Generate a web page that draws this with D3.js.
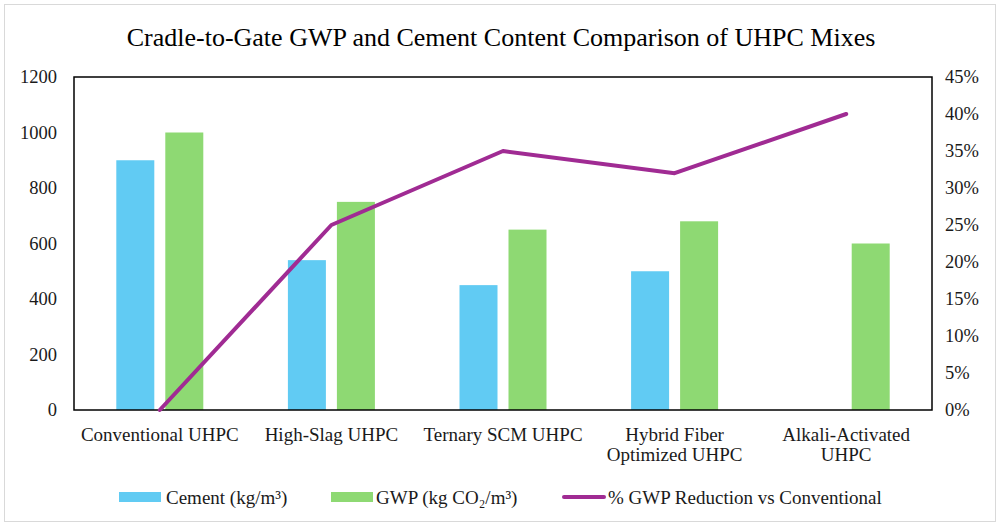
<!DOCTYPE html>
<html>
<head>
<meta charset="utf-8">
<script src="https://cdn.jsdelivr.net/npm/d3@7"></script>
<style>
  html, body { margin: 0; padding: 0; background: #fff; }
  svg text { font-family: "Liberation Serif", "Times New Roman", serif; fill: #1a1a1a; }
</style>
</head>
<body>
<svg id="chart" width="997" height="525"></svg>
<script>
const title = "Cradle-to-Gate GWP and Cement Content Comparison of UHPC Mixes";
const categories = [
  ["Conventional UHPC"],
  ["High-Slag UHPC"],
  ["Ternary SCM UHPC"],
  ["Hybrid Fiber", "Optimized UHPC"],
  ["Alkali-Activated", "UHPC"]
];
const cement = [900, 540, 450, 500, 0];
const gwp = [1000, 750, 650, 680, 600];
const reduction = [0, 25, 35, 32, 40];
const leftTicks = [0, 200, 400, 600, 800, 1000, 1200];
const rightTicks = [0, 5, 10, 15, 20, 25, 30, 35, 40, 45];
const seriesNames = ["Cement (kg/m³)", "GWP (kg CO₂/m³)", "% GWP Reduction vs Conventional"];
const colors = ["#61CBF3", "#8ED973", "#A02B93"];

const svg = d3.select("#chart");
const plot = { left: 74, right: 932, top: 77, bottom: 410 };
const catKeys = categories.map(c => c.join(" "));

// outer frame
svg.append("rect").attr("x", 4.5).attr("y", 4.5).attr("width", 991).attr("height", 517)
  .attr("fill", "#fff").attr("stroke", "#d9d9d9").attr("stroke-width", 1);

// title
svg.append("text").attr("x", 501).attr("y", 46).attr("text-anchor", "middle")
  .style("font-size", "26px").style("fill", "#000").text(title);

const x0 = d3.scaleBand().domain(catKeys).range([plot.left, plot.right]).paddingInner(0.493).paddingOuter(0.2465);
const x1 = d3.scaleBand().domain(["cement", "gwp"]).range([0, x0.bandwidth()]).paddingInner(11 / 49);
const yL = d3.scaleLinear().domain([0, 1200]).range([plot.bottom, plot.top]);
const yR = d3.scaleLinear().domain([0, 45]).range([plot.bottom, plot.top]);

// bars
const data = catKeys.map((k, i) => ({ k, cement: cement[i], gwp: gwp[i], red: reduction[i] }));
[["cement", colors[0]], ["gwp", colors[1]]].forEach(([key, col]) => {
  svg.append("g").selectAll("rect").data(data).join("rect")
    .attr("x", d => x0(d.k) + x1(key))
    .attr("width", x1.bandwidth())
    .attr("y", d => yL(d[key]))
    .attr("height", d => yL(0) - yL(d[key]))
    .attr("fill", col);
});

// plot border
svg.append("rect").attr("x", plot.left).attr("y", plot.top)
  .attr("width", plot.right - plot.left).attr("height", plot.bottom - plot.top)
  .attr("fill", "none").attr("stroke", "#000").attr("stroke-width", 1.5);

// line
const line = d3.line().x(d => x0(d.k) + x0.bandwidth() / 2).y(d => yR(d.red));
svg.append("path").datum(data).attr("d", line)
  .attr("fill", "none").attr("stroke", colors[2]).attr("stroke-width", 4)
  .attr("stroke-linejoin", "round").attr("stroke-linecap", "round");

// left axis
const axL = d3.axisLeft(yL).tickValues(leftTicks).tickSize(0).tickPadding(0).tickFormat(d3.format("d"));
const gL = svg.append("g").attr("transform", "translate(57,0)").call(axL);
gL.select(".domain").remove();
gL.selectAll("text").style("font-size", "18.5px").attr("fill", "#1a1a1a").attr("font-family", null);

// right axis
const axR = d3.axisRight(yR).tickValues(rightTicks).tickSize(0).tickPadding(0).tickFormat(d => d + "%");
const gR = svg.append("g").attr("transform", "translate(945,0)").call(axR);
gR.select(".domain").remove();
gR.selectAll("text").style("font-size", "18.5px").attr("fill", "#1a1a1a").attr("font-family", null);

// category labels
const axB = d3.axisBottom(x0).tickSize(0).tickPadding(0).tickFormat("");
const gB = svg.append("g").attr("transform", `translate(0,${plot.bottom})`).call(axB);
gB.select(".domain").remove();
gB.selectAll(".tick").each(function(d, i) {
  const t = d3.select(this).append("text").attr("text-anchor", "middle")
    .style("font-size", "19px").attr("fill", "#1a1a1a");
  categories[i].forEach((ln, j) => {
    t.append("tspan").attr("x", 0).attr("y", 31 + j * 20).text(ln);
  });
});

// legend
const ly = 497;
const leg = svg.append("g");
leg.append("rect").attr("x", 119).attr("y", ly - 5).attr("width", 42).attr("height", 10).attr("fill", colors[0]);
leg.append("text").attr("x", 166).attr("y", ly + 6.5).style("font-size", "19px").text(seriesNames[0]);
leg.append("rect").attr("x", 331).attr("y", ly - 5).attr("width", 42).attr("height", 10).attr("fill", colors[1]);
leg.append("text").attr("x", 376).attr("y", ly + 6.5).style("font-size", "19px").text(seriesNames[1]);
leg.append("line").attr("x1", 564).attr("x2", 604).attr("y1", ly).attr("y2", ly)
  .attr("stroke", colors[2]).attr("stroke-width", 4).attr("stroke-linecap", "round");
leg.append("text").attr("x", 608).attr("y", ly + 6.5).style("font-size", "19px").text(seriesNames[2]);
</script>
</body>
</html>
